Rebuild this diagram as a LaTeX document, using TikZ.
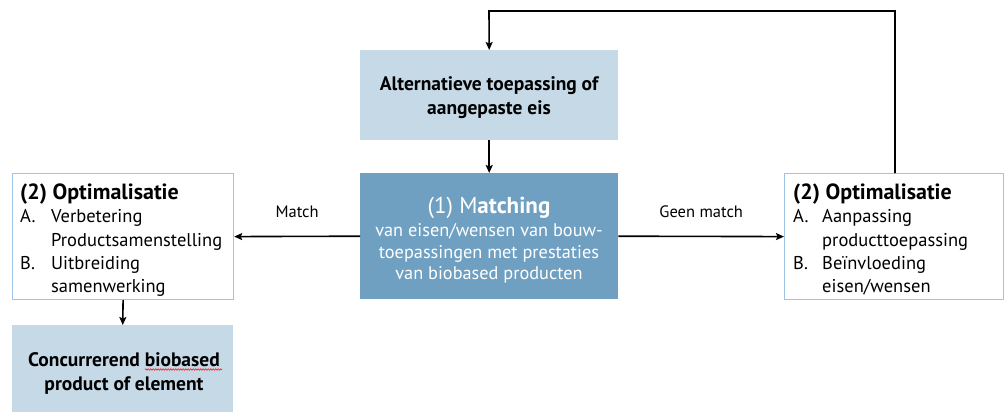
\documentclass[tikz,border=0pt]{standalone}
\usepackage{fontspec}
\setmainfont{PT Sans}
\usetikzlibrary{decorations.pathmorphing,arrows.meta}
\definecolor{lightbox}{HTML}{C5D9E7}
\definecolor{darkbox}{HTML}{6FA0C2}
\definecolor{edgeblue}{HTML}{9DC3E6}
\tikzset{
  x=1pt,y=-1pt,
  boxshape/.style={rectangle,inner sep=0pt,anchor=north west},
  lightfill/.style={boxshape,fill=lightbox},
  darkfill/.style={boxshape,fill=darkbox},
  whitebox/.style={boxshape,draw=edgeblue,line width=1.2pt,fill=white},
  conn/.style={-{Stealth[length=8pt,width=7pt,inset=1.5pt]},line width=1.6pt,black},
  lbl/.style={font=\fontsize{16.5}{18}\selectfont,inner sep=0pt},
  boldtxt/.style={font=\bfseries\fontsize{19.5}{24}\selectfont,inner sep=0pt},
}
\begin{document}
\begin{tikzpicture}
\useasboundingbox (0,0) rectangle (1004,412);
% boxes
\node[lightfill,minimum width=258pt,minimum height=90pt] (alt) at (360,50) {};
\node[darkfill,minimum width=258pt,minimum height=126pt] (match) at (360,173) {};
\node[whitebox,minimum width=221pt,minimum height=126pt] (optL) at (12,173) {};
\node[whitebox,minimum width=219pt,minimum height=126pt] (optR) at (784,173) {};
\node[lightfill,minimum width=221pt,minimum height=87pt] (conc) at (12,325) {};
% texts
\node[boldtxt,anchor=base] (altT1) at (489,90) {Alternatieve toepassing of};
\node[boldtxt,anchor=base] (altT2) at (489,114) {aangepaste eis};
\node[text=white,anchor=base,inner sep=0pt,font=\fontsize{23}{24}\selectfont] (matchT) at (489,213) {(1) M\textbf{atching}};
\node[text=white,anchor=base,inner sep=0pt,font=\fontsize{18.3}{21.5}\selectfont] (matchS1) at (489,236) {van eisen/wensen van bouw-};
\node[text=white,anchor=base,inner sep=0pt,font=\fontsize{18.3}{21.5}\selectfont] (matchS2) at (489,258) {toepassingen met prestaties};
\node[text=white,anchor=base,inner sep=0pt,font=\fontsize{18.3}{21.5}\selectfont] (matchS3) at (489,279) {van biobased producten};
\node[boldtxt,anchor=base] (concT1) at (124,366) {Concurrerend biobased};
\node[boldtxt,anchor=base] (concT2) at (124,390) {product of element};
\node[anchor=north west,inner sep=0pt,align=left] (optLT) at (20,183) {%
  \fontsize{18.5}{23.3}\selectfont
  \begin{tabular}{@{}p{31pt}@{}l@{}}
  \multicolumn{2}{@{}l@{}}{\bfseries\fontsize{22}{23.3}\selectfont (2) Optimalisatie}\\
  A. & Verbetering\\
     & Productsamenstelling\\
  B. & Uitbreiding\\
     & samenwerking
  \end{tabular}};
\node[anchor=north west,inner sep=0pt,align=left] (optRT) at (793,183) {%
  \fontsize{18.5}{23.3}\selectfont
  \begin{tabular}{@{}p{29pt}@{}l@{}}
  \multicolumn{2}{@{}l@{}}{\bfseries\fontsize{22}{23.3}\selectfont (2) Optimalisatie}\\
  A. & Aanpassing\\
     & producttoepassing\\
  B. & Beïnvloeding\\
     & eisen/wensen
  \end{tabular}};
% spell-check squiggle
\coordinate (sqA) at (145,369.5);
\coordinate (sqB) at (222,369.5);
\draw[red,line width=0.5pt,decorate,decoration={snake,amplitude=0.8pt,segment length=2.5pt}] (sqA) -- (sqB);
% connectors
\draw[conn] (alt.south) -- (match.north);
\draw[conn] (match.west) -- node[lbl,anchor=base,yshift=19pt] (mlbl) {Match} (optL.east);
\draw[conn] (match.east) -- node[lbl,anchor=base,yshift=19pt] (gmlbl) {Geen match} (optR.west);
\draw[conn] (optL.south) -- (conc.north);
\coordinate (fbA) at (895,11);
\coordinate (fbB) at (489,11);
\draw[conn] (optR.north -| fbA) -- (fbA) -- (fbB) -- (alt.north);
\end{tikzpicture}
\end{document}
